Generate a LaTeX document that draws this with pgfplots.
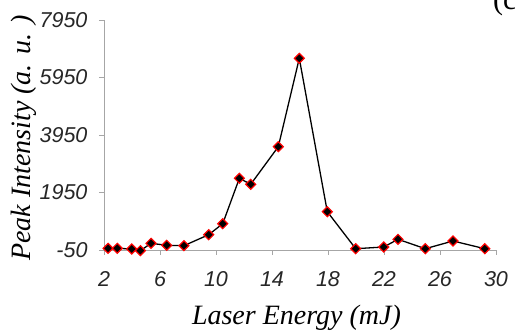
\documentclass[border=0pt]{standalone}
\usepackage{pgfplots}
\pgfplotsset{compat=1.18}
\usepackage{fontspec}
\setmainfont{Liberation Serif}
\setsansfont{Liberation Sans}
\begin{document}
\begin{tikzpicture}[x=1pt,y=1pt]
\useasboundingbox (0,0) rectangle (515,332);
\begin{axis}[
  at={(104pt,82pt)}, anchor=south west,
  scale only axis, width=392pt, height=230pt,
  xmin=2, xmax=30, ymin=-50, ymax=7950,
  xtick={2,6,...,30}, ytick={-50,1950,3950,5950,7950},
  axis x line*=bottom, axis y line*=left,
  axis line style={gray!70, line width=0.8pt},
  tick style={gray!70, line width=0.8pt},
  tick align=outside, major tick length=5pt,
  /pgf/number format/assume math mode=true,
  /pgf/number format/1000 sep={},
  ticklabel style={font=\sffamily\itshape\fontsize{21.5}{21.5}\selectfont, text=black!85},
  xticklabel style={yshift=-13pt},
  yticklabel style={xshift=-8pt},
  xlabel={Laser Energy (mJ)},
  ylabel={Peak Intensity (a. u. )},
  label style={font=\itshape\fontsize{28}{28}\selectfont},
  xlabel style={at={(axis description cs:0.491,-0.296)}, anchor=center},
  ylabel style={at={(axis description cs:-0.205,0.487)}, anchor=center, rotate=0},
  clip=false,
]
\addplot[black, line width=1.3pt, mark=square*, mark size=3.5pt,
  mark options={rotate=45, fill=black, draw=red, line width=1.2pt}]
coordinates {
(2.29,9) (2.95,9) (3.98,-15) (4.6,-74) (5.36,183) (6.48,113) (7.71,100)
(9.48,482) (10.48,865) (11.67,2444) (12.48,2235) (14.45,3543) (15.95,6617)
(17.95,1282) (19.98,-5) (21.98,54) (23.0,322) (24.95,-5) (26.93,263) (29.2,-5)
};
\end{axis}
\node[anchor=west, font=\fontsize{30}{30}\selectfont, inner sep=0pt] at (493,330) {(c)};
\end{tikzpicture}
\end{document}
